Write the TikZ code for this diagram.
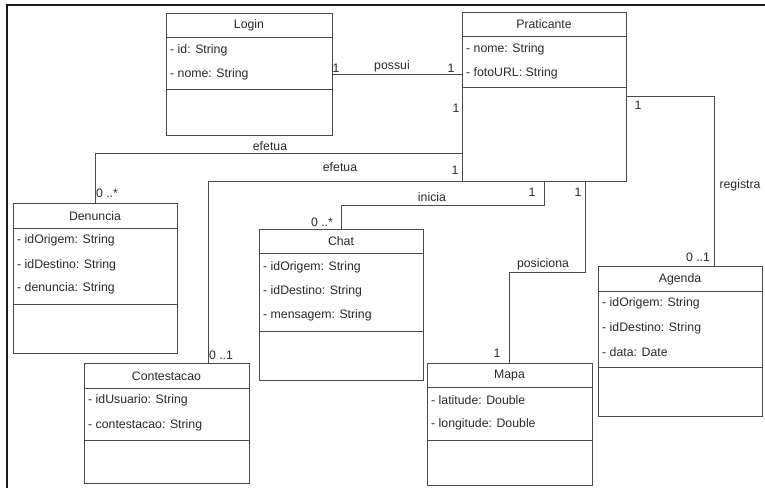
\documentclass[tikz,border=0pt]{standalone}
\usepackage{fontspec}
\setmainfont{Liberation Sans}
\usetikzlibrary{calc}
\definecolor{ln}{HTML}{4A4A4A}
\definecolor{tx}{HTML}{2A2A2A}
\tikzset{
  cls/.style={draw=ln, line width=1pt, anchor=north west, inner sep=0pt, outer sep=0pt},
  hdr/.style={text=tx, font=\fontsize{12.3}{14}\selectfont, anchor=center, inner sep=0pt},
  attr/.style={text=tx, font=\fontsize{12.3}{14}\selectfont, anchor=west, inner sep=0pt},
  lab/.style={text=tx, font=\fontsize{12.3}{14}\selectfont, inner sep=0pt},
  conn/.style={draw=ln, line width=1pt},
  sepline/.style={draw=ln, line width=1pt},
  frameline/.style={draw=black!90, line width=2pt},
}
\newcommand{\umlclass}[8]{% name, x, y, w, h, hdrH, attrBottom, title
  \node[cls, minimum width=#4pt, minimum height=#5pt] (#1) at (#2,#3) {};
  \draw[sepline] ($(#1.north west)+(0,#6)$) -- ($(#1.north east)+(0,#6)$);
  \draw[sepline] ($(#1.north west)+(0,#7)$) -- ($(#1.north east)+(0,#7)$);
  \node[hdr] (#1T) at ($(#1.north)+(0,#6/2+0.5)$) {#8};
}
\newcommand{\umlattr}[4]{% name, class, rel y, text
  \node[attr] (#1) at ($(#2.north west)+(4,#3)$) {#4};
}
\begin{document}
\begin{tikzpicture}[x=1pt,y=-1pt]
\useasboundingbox (0,0) rectangle (765,488);
% frame
\coordinate (fTR) at (765,5);
\coordinate (fTL) at (7,5);
\coordinate (fBL) at (7,488);
\draw[frameline] (fTR) -- (fTL) -- (fBL);

% classes
\umlclass{login}{166}{13}{166}{122}{24}{76}{Login}
\umlattr{loginA}{login}{37}{- id: String}
\umlattr{loginB}{login}{61}{- nome: String}

\umlclass{prat}{462}{12}{164}{169}{24}{75}{Praticante}
\umlattr{pratA}{prat}{37}{- nome: String}
\umlattr{pratB}{prat}{61}{- fotoURL: String}

\umlclass{den}{13}{203}{164}{150}{25}{101}{Denuncia}
\umlattr{denA}{den}{37}{- idOrigem: String}
\umlattr{denB}{den}{62}{- idDestino: String}
\umlattr{denC}{den}{85}{- denuncia: String}

\umlclass{chat}{259}{229}{164}{151}{24}{102}{Chat}
\umlattr{chatA}{chat}{38}{- idOrigem: String}
\umlattr{chatB}{chat}{62}{- idDestino: String}
\umlattr{chatC}{chat}{86}{- mensagem: String}

\umlclass{agenda}{598}{266}{164}{150}{25}{101}{Agenda}
\umlattr{agA}{agenda}{37}{- idOrigem: String}
\umlattr{agB}{agenda}{62}{- idDestino: String}
\umlattr{agC}{agenda}{86}{- data: Date}

\umlclass{mapa}{427}{363}{165}{122}{24}{77}{Mapa}
\umlattr{mapaA}{mapa}{37}{- latitude: Double}
\umlattr{mapaB}{mapa}{61}{- longitude: Double}

\umlclass{cont}{84}{363}{165}{120}{25}{77}{Contestacao}
\umlattr{contA}{cont}{37}{- idUsuario: String}
\umlattr{contB}{cont}{62}{- contestacao: String}

% connectors
\draw[conn] (login.east) -- (login.east -| prat.west);
\draw[conn] (prat.east) -| ($(agenda.north)+(34,0)$);
\draw[conn] ($(prat.north west)+(0,141)$) -| (den.north);
\draw[conn] (prat.south west) -| ($(cont.north east)+(-41,0)$);
\draw[conn] (prat.south) -- ++(0,24) -| (chat.north);
\draw[conn] ($(prat.south)+(41,0)$) -- ++(0,91) -| (mapa.north);

% labels
\node[lab] (lPossui) at (392,66) {possui};
\node[lab] (m1) at (336,68) {1};
\node[lab] (m2) at (451,68) {1};
\node[lab] (m3) at (456,108) {1};
\node[lab] (lEf1) at (270,146) {efetua};
\node[lab] (lEf2) at (340,167) {efetua};
\node[lab] (m4) at (455,170) {1};
\node[lab] (m5) at (107,193) {0 ..*};
\node[lab] (m6) at (221,355) {0 ..1};
\node[lab] (lIni) at (432,197) {inicia};
\node[lab] (m7) at (532,192) {1};
\node[lab] (m8) at (322,222) {0 ..*};
\node[lab] (lPos) at (543,264) {posiciona};
\node[lab] (m9) at (578,192) {1};
\node[lab] (m10) at (497,353) {1};
\node[lab] (lReg) at (740,185) {registra};
\node[lab] (m11) at (638,105) {1};
\node[lab] (m12) at (698,257) {0 ..1};
\end{tikzpicture}
\end{document}
